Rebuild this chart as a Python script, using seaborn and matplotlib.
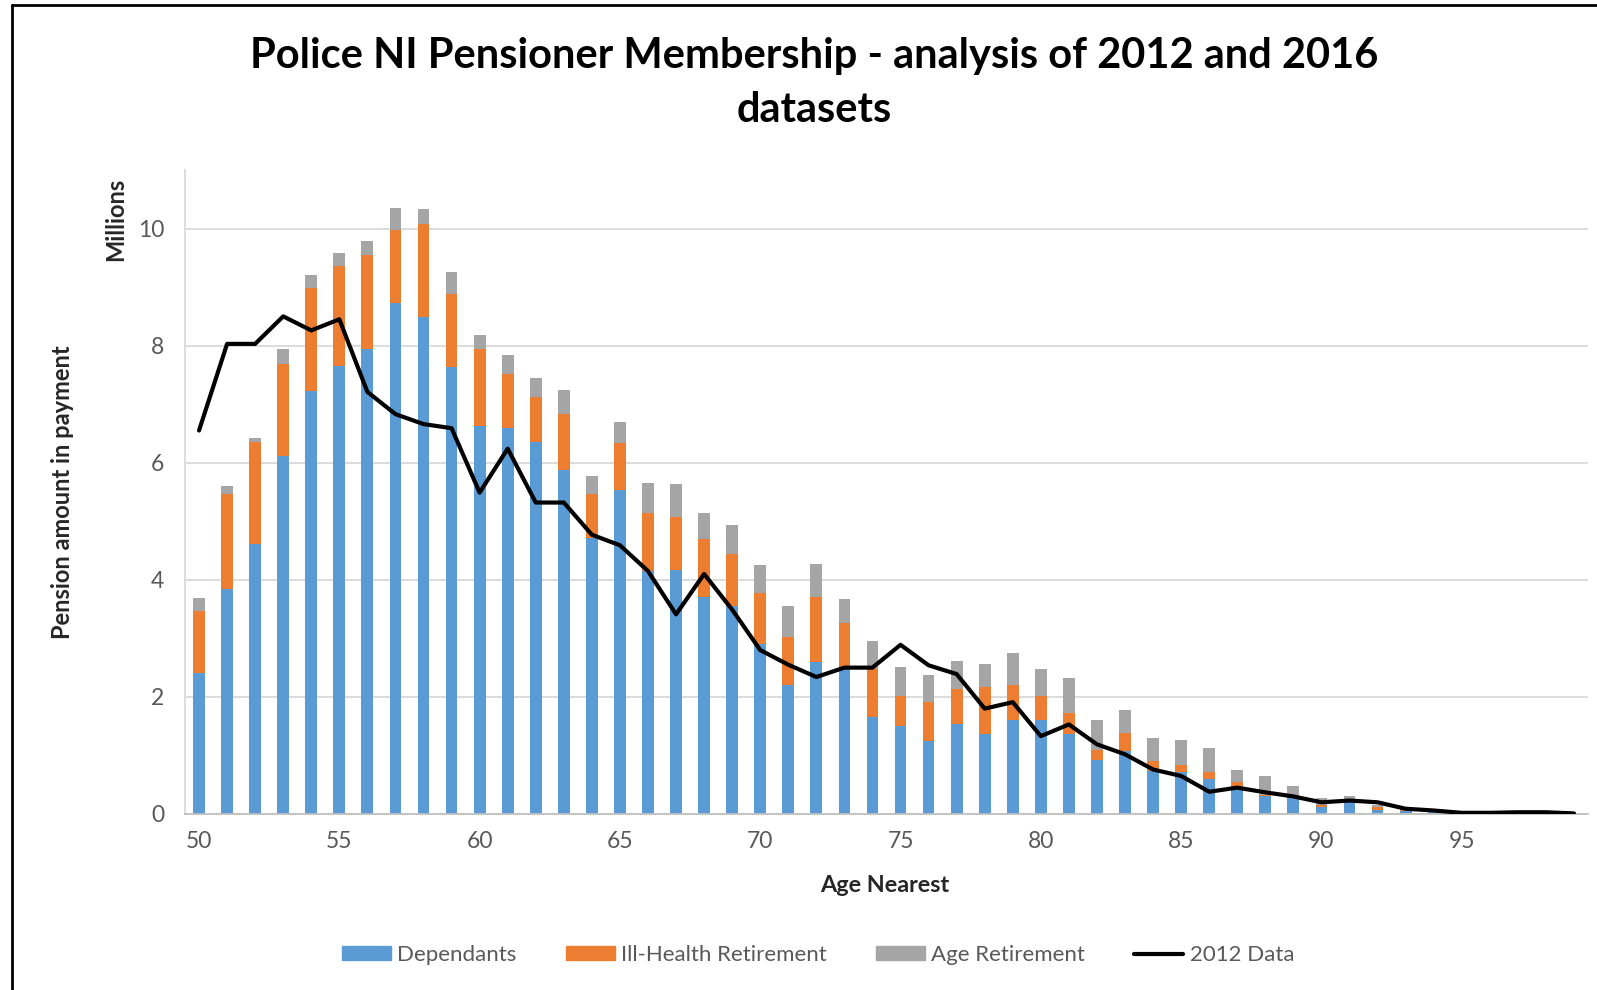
import numpy as np
import pandas as pd
import matplotlib
matplotlib.use("Agg")
import matplotlib.pyplot as plt
import seaborn as sns
from matplotlib.patches import Patch
from matplotlib.lines import Line2D

# ages 50..99
ages = list(range(50, 100))

dependants = [2.40, 3.85, 4.61, 6.12, 7.23, 7.65, 7.94, 8.73, 8.49, 7.63,
              6.62, 6.59, 6.36, 5.87, 4.72, 5.53, 4.15, 4.17, 3.71, 3.55,
              2.91, 2.20, 2.60, 2.51, 1.66, 1.50, 1.25, 1.53, 1.37, 1.61,
              1.61, 1.37, 0.93, 1.08, 0.74, 0.72, 0.59, 0.42, 0.31, 0.30,
              0.12, 0.23, 0.07, 0.05, 0.03, 0.01, 0.01, 0.01, 0.005, 0.0]
ill_health = [1.06, 1.62, 1.75, 1.56, 1.76, 1.71, 1.61, 1.24, 1.58, 1.26,
              1.32, 0.92, 0.77, 0.96, 0.75, 0.80, 0.99, 0.90, 0.98, 0.89,
              0.86, 0.83, 1.10, 0.76, 0.81, 0.52, 0.66, 0.61, 0.80, 0.60,
              0.41, 0.36, 0.17, 0.31, 0.17, 0.12, 0.12, 0.12, 0.02, 0.02,
              0.04, 0.01, 0.05, 0.01, 0.01, 0.0, 0.0, 0.0, 0.0, 0.0]
age_ret = [0.23, 0.13, 0.07, 0.26, 0.21, 0.22, 0.24, 0.38, 0.26, 0.36,
           0.25, 0.33, 0.31, 0.42, 0.31, 0.37, 0.52, 0.57, 0.45, 0.50,
           0.48, 0.52, 0.57, 0.40, 0.48, 0.49, 0.46, 0.47, 0.40, 0.54,
           0.46, 0.60, 0.50, 0.38, 0.39, 0.42, 0.42, 0.21, 0.32, 0.15,
           0.12, 0.07, 0.03, 0.02, 0.01, 0.01, 0.01, 0.01, 0.005, 0.0]
data_2012 = [6.55, 8.03, 8.03, 8.50, 8.26, 8.45, 7.21, 6.83, 6.66, 6.59,
             5.49, 6.24, 5.32, 5.32, 4.77, 4.59, 4.15, 3.41, 4.10, 3.49,
             2.80, 2.55, 2.34, 2.50, 2.50, 2.89, 2.54, 2.39, 1.80, 1.91,
             1.33, 1.53, 1.19, 1.02, 0.76, 0.65, 0.38, 0.45, 0.37, 0.30,
             0.20, 0.23, 0.20, 0.09, 0.06, 0.02, 0.02, 0.03, 0.03, 0.01]

df = pd.DataFrame({"age": ages, "dep": dependants, "ill": ill_health,
                   "agr": age_ret, "d2012": data_2012})
df["top_ill"] = df["dep"] + df["ill"]
df["top_all"] = df["top_ill"] + df["agr"]

blue = "#5B9BD5"
orange = "#ED7D31"
grey = "#A5A5A5"
font = ["Lato", "DejaVu Sans"]

sns.set_theme(style="white")
plt.rcParams["font.family"] = font

fig = plt.figure(figsize=(15.97, 9.9), dpi=100)
ax = fig.add_axes([185/1597, 1-814/990, (1588-185)/1597, (814-170)/990])

# stacked bars drawn as cumulative totals, tallest first
bw = 0.42
sns.barplot(data=df, x="age", y="top_all", native_scale=True, color=grey,
            saturation=1, width=bw, ax=ax, linewidth=0, zorder=2)
sns.barplot(data=df, x="age", y="top_ill", native_scale=True, color=orange,
            saturation=1, width=bw, ax=ax, linewidth=0, zorder=2)
sns.barplot(data=df, x="age", y="dep", native_scale=True, color=blue,
            saturation=1, width=bw, ax=ax, linewidth=0, zorder=2)
sns.lineplot(data=df, x="age", y="d2012", color="black", linewidth=3.0,
             ax=ax, zorder=3)

ax.set_xlim(49.5, 99.5)
ax.set_ylim(0, 11)
ax.set_xticks(range(50, 100, 5))
ax.set_xticks(np.arange(49.5, 100, 5), minor=True)
ax.set_yticks(range(0, 11, 2))
ax.tick_params(axis="x", which="major", length=0, pad=12, labelsize=16.5,
               labelcolor="#595959")
ax.tick_params(axis="x", which="minor", length=6, color="#BFBFBF", width=1.2)
ax.tick_params(axis="y", length=7, color="#D9D9D9", width=1.2, labelsize=16.5,
               labelcolor="#595959", pad=8)
ax.grid(axis="y", color="#D9D9D9", linewidth=1.3, zorder=0)
ax.set_axisbelow(True)
for s in ["top", "right"]:
    ax.spines[s].set_visible(False)
ax.spines["left"].set_color("#D9D9D9")
ax.spines["left"].set_linewidth(1.3)
ax.spines["bottom"].set_color("#BFBFBF")
ax.spines["bottom"].set_linewidth(1.3)

ax.set_xlabel("")
ax.set_ylabel("")
fig.text(885/1597, 1-886/990, "Age Nearest", ha="center", va="center",
         fontsize=16.8, fontweight="bold", color="#262626")
fig.text(63/1597, 1-492/990, "Pension amount in payment", ha="center",
         va="center", rotation=90, fontsize=17, fontweight="bold", color="#262626")
fig.text(116/1597, 1-219/990, "Millions", ha="center", va="center",
         rotation=90, fontsize=17, fontweight="bold", color="#262626")

fig.text(814/1597, 1-56/990, "Police NI Pensioner Membership - analysis of 2012 and 2016",
         ha="center", va="center", fontsize=30, fontweight="bold", color="black")
fig.text(814/1597, 1-110/990, "datasets", ha="center", va="center",
         fontsize=30, fontweight="bold", color="black")

handles = [Patch(color=blue, label="Dependants"),
           Patch(color=orange, label="Ill-Health Retirement"),
           Patch(color=grey, label="Age Retirement"),
           Line2D([], [], color="black", linewidth=3.0, label="2012 Data")]
fig.legend(handles=handles, loc="center", ncol=4, frameon=False,
           bbox_to_anchor=(818/1597, 1-955/990), fontsize=16,
           handlelength=2.2, handleheight=0.6, handletextpad=0.3,
           columnspacing=2.2, labelcolor="#595959")

# chart border (left and top edges visible in the reference)
fig.add_artist(Line2D([12/1597, 12/1597], [0, 1-5/990], color="black",
                      linewidth=2, transform=fig.transFigure))
fig.add_artist(Line2D([12/1597, 1], [1-5/990, 1-5/990], color="black",
                      linewidth=2, transform=fig.transFigure))

fig.savefig("out.png", dpi=100)
